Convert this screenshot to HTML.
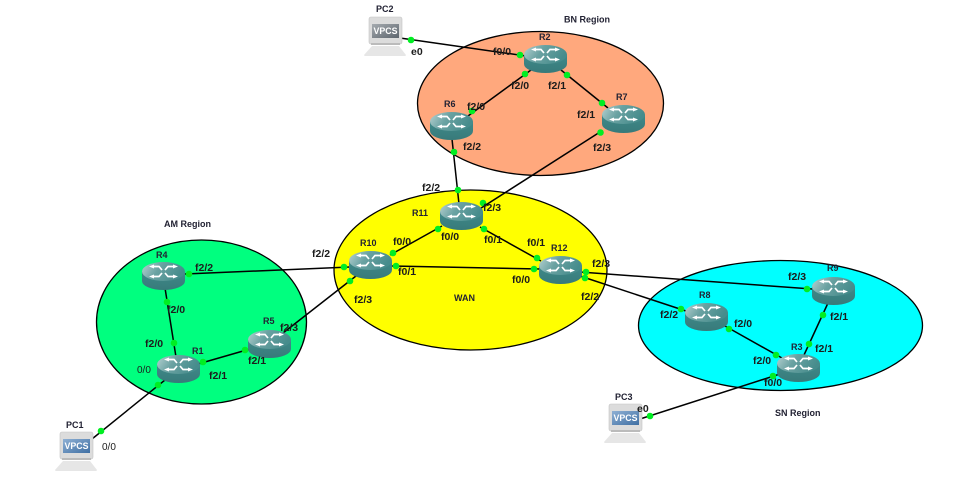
<!DOCTYPE html>
<html><head><meta charset="utf-8"><style>
html,body{margin:0;padding:0;background:#fff;width:975px;height:486px;overflow:hidden}
svg{display:block}
text{font-family:"Liberation Sans",sans-serif;font-size:10.5px;font-weight:bold;fill:#1c1c1c}
text.t{font-size:9px;fill:#223}
text.n{font-weight:normal;font-size:10px}
.vp{font-size:9px;fill:#fff;font-weight:bold}
</style></head><body>
<svg width="975" height="486" viewBox="0 0 975 486" xmlns="http://www.w3.org/2000/svg">
<defs>
<linearGradient id="top" x1="0" y1="0" x2="1" y2="0.3"><stop offset="0" stop-color="#b8d2d2"/><stop offset=".45" stop-color="#6aa2a2"/><stop offset="1" stop-color="#468c8c"/></linearGradient>
<linearGradient id="side" x1="0" y1="0" x2="0" y2="1"><stop offset="0" stop-color="#3f8a8a"/><stop offset="1" stop-color="#387a7a"/></linearGradient>
<linearGradient id="scr" x1="0" y1="0" x2="1" y2="1"><stop offset="0" stop-color="#8fb0d4"/><stop offset="1" stop-color="#3f6fa3"/></linearGradient>
<linearGradient id="scg" x1="0" y1="0" x2="1" y2="1"><stop offset="0" stop-color="#a5aaaf"/><stop offset="1" stop-color="#5e666e"/></linearGradient>
<g id="router">
<path d="M0 9.500 V19 A21.500 9 0 0 0 43 19 V9.500 Z" fill="url(#side)"/>
<ellipse cx="21.500" cy="9.500" rx="21.500" ry="9.500" fill="url(#top)"/>
<g stroke="#fff" stroke-width="1.700" fill="none">
<path d="M11 4.500 H17 L20 8"/>
<path d="M32 4.500 H26 L23 8"/>
<path d="M11 14.500 H17 L20 11"/>
<path d="M32 14.500 H26 L23 11"/>
</g>
<g fill="#fff">
<path d="M7 4.500 L12 2.500 V6.500 Z"/>
<path d="M36 4.500 L31 2.500 V6.500 Z"/>
<path d="M7 14.500 L12 12.500 V16.500 Z"/>
<path d="M36 14.500 L31 12.500 V16.500 Z"/>
</g>
</g>
<g id="pcb">
<rect x="5" y="0" width="33" height="27" rx="2" fill="#dcdcdc" stroke="#c4c4c4" stroke-width=".6"/>
<path d="M8 29 H35 L42 38 Q42 39 40 39 H2 Q0 39 0 38 Z" fill="#e6e6e6"/>
<rect x="7" y="26" width="29" height="2" fill="#bbb"/>
</g>
</defs>
<rect width="975" height="486" fill="#fff"/>

<ellipse cx="540.500" cy="103.500" rx="123" ry="72" fill="#ffa87d" stroke="#000" stroke-width="1.300"/>
<ellipse cx="470.500" cy="270" rx="136.500" ry="80" fill="#ffff00" stroke="#000" stroke-width="1.300"/>
<ellipse cx="201.500" cy="322" rx="105" ry="82" fill="#00ff7f" stroke="#000" stroke-width="1.300"/>
<ellipse cx="780.500" cy="325.500" rx="142" ry="65" fill="#00ffff" stroke="#000" stroke-width="1.300"/>

<g stroke="#000" stroke-width="1.500" fill="none">
<line x1="400" y1="38" x2="526" y2="56"/>
<line x1="531" y1="70" x2="468" y2="116"/>
<line x1="561" y1="70" x2="608" y2="108"/>
<line x1="452" y1="139" x2="459" y2="204"/>
<line x1="600" y1="132" x2="478" y2="210"/>
<line x1="442" y1="226" x2="390" y2="255"/>
<line x1="480" y1="227" x2="541" y2="261"/>
<line x1="392" y1="266" x2="540" y2="269"/>
<line x1="350" y1="267" x2="185" y2="274"/>
<line x1="356" y1="276" x2="283" y2="333"/>
<line x1="580" y1="272" x2="812" y2="289"/>
<line x1="580" y1="276" x2="686" y2="311"/>
<line x1="725" y1="326" x2="782" y2="358"/>
<line x1="828" y1="303" x2="804" y2="355"/>
<line x1="780" y1="374" x2="640" y2="419"/>
<line x1="165" y1="288" x2="176" y2="357"/>
<line x1="198" y1="364" x2="250" y2="349"/>
<line x1="165" y1="380" x2="92" y2="439"/>
</g>

<use href="#router" x="524" y="45"/>
<use href="#router" x="430" y="112"/>
<use href="#router" x="602" y="105"/>
<use href="#router" x="440" y="202"/>
<use href="#router" x="349" y="251"/>
<use href="#router" x="539" y="256"/>
<use href="#router" x="812" y="277"/>
<use href="#router" x="685" y="303"/>
<use href="#router" x="777" y="354"/>
<use href="#router" x="142" y="262"/>
<use href="#router" x="157" y="355"/>
<use href="#router" x="248" y="330"/>

<use href="#pcb" x="364" y="17"/>
<rect x="372" y="24" width="27" height="14" fill="url(#scg)"/>
<text class="vp" x="373.500" y="34" textLength="24" lengthAdjust="spacingAndGlyphs">VPCS</text>
<use href="#pcb" x="55" y="432"/>
<rect x="63" y="439" width="27" height="14" fill="url(#scr)"/>
<text class="vp" x="64.500" y="449" textLength="24" lengthAdjust="spacingAndGlyphs">VPCS</text>
<use href="#pcb" x="604" y="404"/>
<rect x="612" y="411" width="27" height="14" fill="url(#scr)"/>
<text class="vp" x="613.500" y="421" textLength="24" lengthAdjust="spacingAndGlyphs">VPCS</text>

<g fill="#00ee22">
<circle cx="411" cy="40" r="3.300"/><circle cx="520" cy="55" r="3.300"/>
<circle cx="525" cy="74" r="3.300"/><circle cx="472" cy="111" r="3.300"/>
<circle cx="567" cy="75" r="3.300"/><circle cx="602" cy="103" r="3.300"/>
<circle cx="454" cy="152" r="3.300"/><circle cx="458" cy="190" r="3.300"/>
<circle cx="600.500" cy="132.500" r="3.300"/><circle cx="483" cy="203" r="3.300"/>
<circle cx="438" cy="229" r="3.300"/><circle cx="393" cy="253" r="3.300"/>
<circle cx="484" cy="229" r="3.300"/><circle cx="537" cy="258" r="3.300"/>
<circle cx="396" cy="266" r="3.300"/><circle cx="534" cy="269" r="3.300"/>
<circle cx="344" cy="267" r="3.300"/><circle cx="189" cy="274" r="3.300"/>
<circle cx="350" cy="281" r="3.300"/>
<circle cx="586" cy="272" r="3.300"/><circle cx="807" cy="289" r="3.300"/>
<circle cx="585" cy="278" r="3.300"/><circle cx="681" cy="309" r="3.300"/>
<circle cx="729" cy="329" r="3.300"/><circle cx="776" cy="355" r="3.300"/>
<circle cx="823" cy="315" r="3.300"/><circle cx="809" cy="344" r="3.300"/>
<circle cx="773" cy="376" r="3.300"/><circle cx="650" cy="416" r="3.300"/>
<circle cx="167" cy="302" r="3.300"/><circle cx="174" cy="343" r="3.300"/>
<circle cx="203" cy="362" r="3.300"/><circle cx="245" cy="350" r="3.300"/>
<circle cx="158" cy="385" r="3.300"/><circle cx="101" cy="431" r="3.300"/>
</g>

<g>
<text class="t" x="376" y="12">PC2</text>
<text class="t" x="564" y="22.500">BN Region</text>
<text class="t" x="539" y="40">R2</text>
<text x="411" y="55">e0</text>
<text x="493" y="55">f0/0</text>
<text x="511" y="89">f2/0</text>
<text x="548" y="89">f2/1</text>
<text class="t" x="444" y="107">R6</text>
<text x="467" y="110">f2/0</text>
<text class="t" x="616" y="100">R7</text>
<text x="577" y="118">f2/1</text>
<text x="463" y="150">f2/2</text>
<text x="593" y="151">f2/3</text>
<text x="422" y="191">f2/2</text>
<text class="t" x="412" y="216">R11</text>
<text x="483" y="211">f2/3</text>
<text class="t" x="360" y="246">R10</text>
<text x="393" y="245">f0/0</text>
<text x="441" y="240">f0/0</text>
<text x="484" y="243">f0/1</text>
<text x="527" y="246">f0/1</text>
<text class="t" x="551" y="251">R12</text>
<text x="592" y="267">f2/3</text>
<text x="398" y="275">f0/1</text>
<text x="512" y="283">f0/0</text>
<text x="581" y="300">f2/2</text>
<text x="354" y="303">f2/3</text>
<text class="t" x="454" y="301">WAN</text>
<text x="312" y="257">f2/2</text>
<text class="t" x="156" y="258">R4</text>
<text x="195" y="271">f2/2</text>
<text class="t" x="164" y="227">AM Region</text>
<text x="167" y="313">f2/0</text>
<text x="280" y="331">f2/3</text>
<text class="t" x="263" y="324">R5</text>
<text x="145" y="347">f2/0</text>
<text class="t" x="192" y="354">R1</text>
<text class="n" x="137" y="373">0/0</text>
<text x="209" y="379">f2/1</text>
<text x="248" y="364">f2/1</text>
<text class="t" x="66" y="428">PC1</text>
<text class="n" x="102" y="450">0/0</text>
<text class="t" x="827" y="271">R9</text>
<text x="788" y="280">f2/3</text>
<text class="t" x="699" y="298">R8</text>
<text x="660" y="318">f2/2</text>
<text x="734" y="327">f2/0</text>
<text x="830" y="320">f2/1</text>
<text class="t" x="791" y="350">R3</text>
<text x="815" y="352">f2/1</text>
<text x="753" y="364">f2/0</text>
<text x="764" y="386">f0/0</text>
<text class="t" x="775" y="416">SN Region</text>
<text class="t" x="615" y="400">PC3</text>
<text x="637" y="412">e0</text>
</g>
</svg>
</body></html>
